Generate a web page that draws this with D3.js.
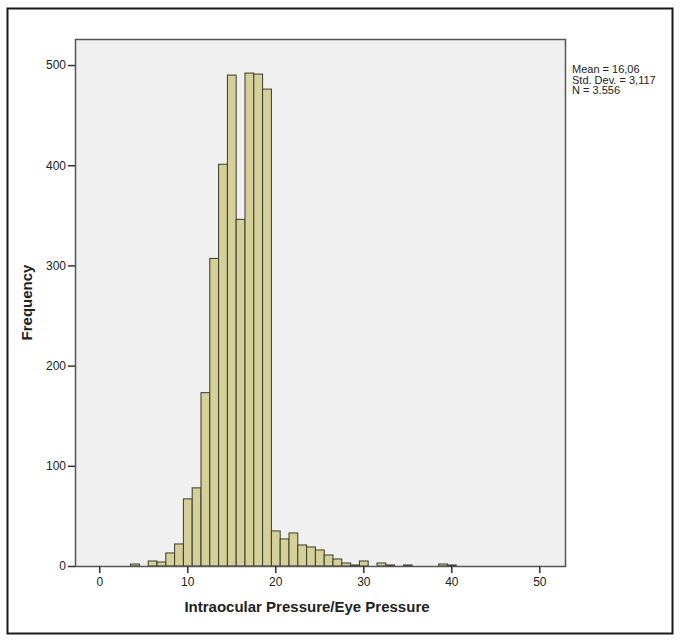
<!DOCTYPE html>
<html>
<head>
<meta charset="utf-8">
<script src="https://cdn.jsdelivr.net/npm/d3@7/dist/d3.min.js"></script>
<style>
  html, body { margin: 0; padding: 0; background: #fff; }
  svg { display: block; font-family: "Liberation Sans", Arial, sans-serif; }
</style>
</head>
<body>
<svg id="chart" width="680" height="641"></svg>
<script>
// Data (bin centres, bin width 1)
const binCenters = [4, 6, 7, 8, 9, 10, 11, 12, 13, 14, 15, 16, 17, 18, 19, 20, 21, 22, 23, 24, 25, 26, 27, 28, 29, 30, 32, 33, 35, 39, 40];
const counts     = [2, 5, 4, 13, 22, 67, 78, 173, 307, 401, 490, 346, 492, 491, 476, 35, 27, 33, 21, 19, 16, 11, 7, 3, 1, 5, 3, 1, 1, 2, 1];
const xTicks = [0, 10, 20, 30, 40, 50];
const yTicks = [0, 100, 200, 300, 400, 500];
const statsLines = ["Mean = 16,06", "Std. Dev. = 3,117", "N = 3.556"];
const xTitle = "Intraocular Pressure/Eye Pressure";
const yTitle = "Frequency";

const svg = d3.select("#chart");
const plot = { left: 75, top: 39, right: 565, bottom: 566 };

// outer frame
svg.append("rect")
  .attr("x", 7.5).attr("y", 8.5).attr("width", 665).attr("height", 625)
  .attr("fill", "#fff").attr("stroke", "#1a1a1a").attr("stroke-width", 2);

const x = d3.scaleLinear().domain([-2.76, 52.92]).range([plot.left, plot.right]);
const y = d3.scaleLinear().domain([0, 526]).range([plot.bottom, plot.top]);

// plot background
svg.append("rect")
  .attr("x", plot.left).attr("y", plot.top)
  .attr("width", plot.right - plot.left).attr("height", plot.bottom - plot.top)
  .attr("fill", "#f0f0f0");

// bars
const bins = binCenters.map((c, i) => ({ c, n: counts[i] }));
svg.append("g").selectAll("rect").data(bins).join("rect")
  .attr("x", d => x(d.c - 0.5) + 0.5)
  .attr("y", d => y(d.n))
  .attr("width", d => x(d.c + 0.5) - x(d.c - 0.5))
  .attr("height", d => Math.max(0.5, y(0) - y(d.n)))
  .attr("fill", "#d5d09a")
  .attr("stroke", "#3a3a2a")
  .attr("stroke-width", 1);

// plot frame
svg.append("rect")
  .attr("x", plot.left + 0.5).attr("y", plot.top + 0.5)
  .attr("width", plot.right - plot.left).attr("height", plot.bottom - plot.top)
  .attr("fill", "none").attr("stroke", "#555").attr("stroke-width", 1.5);

// axes
const xAxis = d3.axisBottom(x).tickValues(xTicks).tickSize(7).tickPadding(4).tickSizeOuter(0);
const gx = svg.append("g").attr("transform", `translate(0,${plot.bottom})`).call(xAxis);
gx.select(".domain").remove();
gx.selectAll("line").attr("stroke", "#333").attr("stroke-width", 1.5);
gx.selectAll("text").attr("font-size", 12).attr("fill", "#222")
  .attr("font-family", "Liberation Sans, Arial, sans-serif");

const yAxis = d3.axisLeft(y).tickValues(yTicks).tickSize(7).tickPadding(2).tickSizeOuter(0);
const gy = svg.append("g").attr("transform", `translate(${plot.left},0)`).call(yAxis);
gy.select(".domain").remove();
gy.selectAll("line").attr("stroke", "#333").attr("stroke-width", 1.5);
gy.selectAll("text").attr("font-size", 12).attr("fill", "#222")
  .attr("font-family", "Liberation Sans, Arial, sans-serif");

// axis titles
svg.append("text")
  .attr("x", (plot.left + plot.right) / 2 - 13).attr("y", 612)
  .attr("text-anchor", "middle").attr("font-size", 15).attr("font-weight", "bold").attr("fill", "#222")
  .text(xTitle);

svg.append("text")
  .attr("transform", `translate(32,${(plot.top + plot.bottom) / 2}) rotate(-90)`)
  .attr("text-anchor", "middle").attr("font-size", 15).attr("font-weight", "bold").attr("fill", "#222")
  .text(yTitle);

// stats
svg.append("g").selectAll("text").data(statsLines).join("text")
  .attr("x", 572).attr("y", (d, i) => 73 + i * 10.5)
  .attr("font-size", 11).attr("fill", "#222")
  .text(d => d);
</script>
</body>
</html>
